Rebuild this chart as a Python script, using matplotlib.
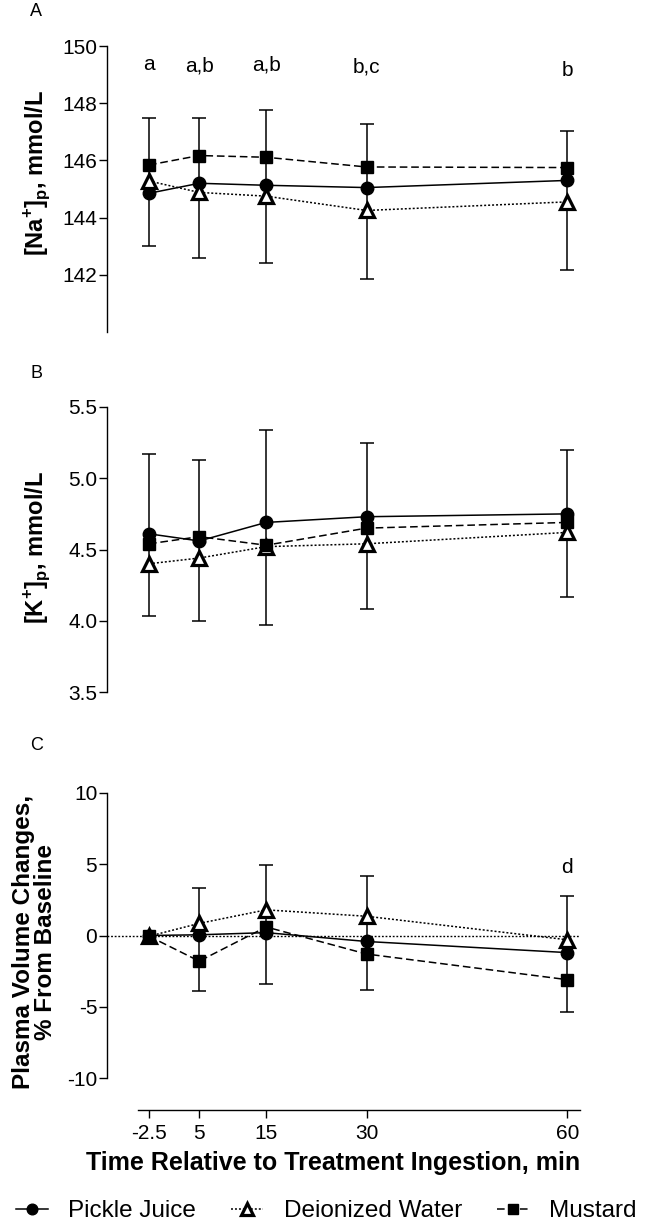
import matplotlib
matplotlib.use("Agg")
import matplotlib.pyplot as plt
import numpy as np
from matplotlib.lines import Line2D

plt.rcParams['font.family'] = ['Liberation Sans', 'DejaVu Sans']
plt.rcParams['mathtext.fontset'] = 'custom'
plt.rcParams['mathtext.rm'] = 'Liberation Sans'
plt.rcParams['mathtext.bf'] = 'Liberation Sans:bold'

# tempos (min)
times = [-2.5, 5, 15, 30, 60]
tick_labels = ['-2.5', '5', '15', '30', '60']
groups = ['Pickle Juice', 'Deionized Water', 'Mustard']

# (A) sodio plasmatico
na_pickle = [144.85, 145.2, 145.13, 145.05, 145.3]
na_water = [145.28, 144.88, 144.75, 144.25, 144.55]
na_mustard = [145.84, 146.17, 146.11, 145.77, 145.75]
na_err_lo = [143.0, 142.6, 142.4, 141.85, 142.17]
na_err_hi = [147.47, 147.47, 147.76, 147.27, 147.03]
na_letters = ['a', 'a,b', 'a,b', 'b,c', 'b']
na_letter_y = [149.15, 149.1, 149.15, 149.07, 148.95]

# (B) potassio plasmatico
k_pickle = [4.61, 4.56, 4.69, 4.73, 4.75]
k_water = [4.40, 4.44, 4.52, 4.54, 4.62]
k_mustard = [4.54, 4.59, 4.53, 4.65, 4.69]
k_err_lo = [4.03, 4.00, 3.97, 4.08, 4.165]
k_err_hi = [5.17, 5.13, 5.34, 5.245, 5.195]

# (C) variacao do volume plasmatico
pv_pickle = [0.0, 0.05, 0.2, -0.42, -1.2]
pv_water = [-0.05, 0.85, 1.8, 1.35, -0.3]
pv_mustard = [-0.05, -1.8, 0.6, -1.3, -3.1]
pv_err_times = [5, 15, 30, 60]
pv_err_lo = [-3.9, -3.43, -3.82, -5.35]
pv_err_hi = [3.36, 4.93, 4.18, 2.8]

W, H = 645, 1224
fig = plt.figure(figsize=(W / 100, H / 100), dpi=100)


def px_axes(top, bottom):
    left, right = 107, 580
    return fig.add_axes([left / W, 1 - bottom / H, (right - left) / W, (bottom - top) / H])


styles = [
    dict(marker='o', ls='-', color='black', mfc='black', mec='black', ms=9, lw=1.1),
    dict(marker='^', ls=(0, (1.3, 1.3)), color='black', mfc='white', mec='black', ms=10.5, mew=2.3, lw=1.1),
    dict(marker='s', ls=(0, (5, 2.5)), color='black', mfc='black', mec='black', ms=9, lw=1.1),
]


def draw_panel(ax, series, err_x, err_lo, err_hi, ylim, yticks, ylabels):
    lo = np.array(err_lo)
    hi = np.array(err_hi)
    ax.errorbar(err_x, (lo + hi) / 2, yerr=(hi - lo) / 2, fmt='none', ecolor='black',
                elinewidth=1.1, capsize=4.8, capthick=1.1, zorder=2)
    for vals, st in zip(series, styles):
        ax.plot(times, vals, zorder=3, clip_on=False, **st)
    ax.set_xlim(-8.78, 61.9)
    ax.set_ylim(*ylim)
    ax.set_yticks(yticks)
    ax.set_yticklabels(ylabels)
    for s in ['top', 'right']:
        ax.spines[s].set_visible(False)
    ax.spines['left'].set_linewidth(1.0)
    ax.tick_params(axis='y', direction='out', length=6, width=1.0, labelsize=15, pad=1)


axA = px_axes(46, 332)
draw_panel(axA, [na_pickle, na_water, na_mustard], times, na_err_lo, na_err_hi,
           (140, 150), [142, 144, 146, 148, 150], ['142', '144', '146', '148', '150'])
axA.spines['bottom'].set_visible(False)
axA.set_xticks([])
for t, lab, y in zip(times, na_letters, na_letter_y):
    axA.text(t, y, lab, ha='center', va='baseline', fontsize=15)
axA.set_ylabel(r'[Na$^{\mathbf{+}}$]$_{\mathbf{p}}$, mmol/L', fontsize=17, fontweight='bold')
axA.yaxis.set_label_coords(-0.114, 0.556)

axB = px_axes(407, 692)
draw_panel(axB, [k_pickle, k_water, k_mustard], times, k_err_lo, k_err_hi,
           (3.5, 5.5), [3.5, 4.0, 4.5, 5.0, 5.5], ['3.5', '4.0', '4.5', '5.0', '5.5'])
axB.spines['bottom'].set_visible(False)
axB.set_xticks([])
axB.set_ylabel(r'[K$^{\mathbf{+}}$]$_{\mathbf{p}}$, mmol/L', fontsize=17, fontweight='bold')
axB.yaxis.set_label_coords(-0.114, 0.507)

axC = px_axes(793, 1078)
axC.axhline(0, color='black', ls=(0, (1.3, 1.3)), lw=1.0, zorder=1)
draw_panel(axC, [pv_pickle, pv_water, pv_mustard], pv_err_times, pv_err_lo, pv_err_hi,
           (-10, 10), [-10, -5, 0, 5, 10], ['-10', '-5', '0', '5', '10'])
axC.text(60, 4.41, 'd', ha='center', va='baseline', fontsize=15)
axC.spines['bottom'].set_position(('outward', 23))
axC.spines['bottom'].set_bounds(-4.14, 61.9)
axC.spines['bottom'].set_linewidth(1.0)
axC.set_xticks(times)
axC.set_xticklabels(tick_labels)
axC.tick_params(axis='x', direction='out', length=6, width=1.0, labelsize=15, pad=4)
axC.set_xlabel('Time Relative to Treatment Ingestion, min', fontsize=18, fontweight='bold')
axC.xaxis.set_label_coords(0.478, -0.255)
axC.set_ylabel('Plasma Volume Changes,\n% From Baseline', fontsize=17.5, fontweight='bold',
               linespacing=0.95)
axC.yaxis.set_label_coords(-0.106, 0.478)

# letras dos paineis
fig.text(30 / W, 1 - 12 / H, 'A', fontsize=13, ha='left', va='center')
fig.text(30 / W, 1 - 373 / H, 'B', fontsize=13, ha='left', va='center')
fig.text(30 / W, 1 - 745 / H, 'C', fontsize=13, ha='left', va='center')

handles = [Line2D([], [], **st) for st in styles]
for h in handles:
    h.set_markersize(h.get_markersize() * 0.85)
fig.legend(handles, groups, loc='center left', bbox_to_anchor=(16 / W, 1 - 1211 / H),
           ncol=3, frameon=False, fontsize=17.5, handlelength=1.3, handletextpad=0.85,
           columnspacing=1.45, borderpad=0, borderaxespad=0)

fig.savefig('out.png', dpi=100)
